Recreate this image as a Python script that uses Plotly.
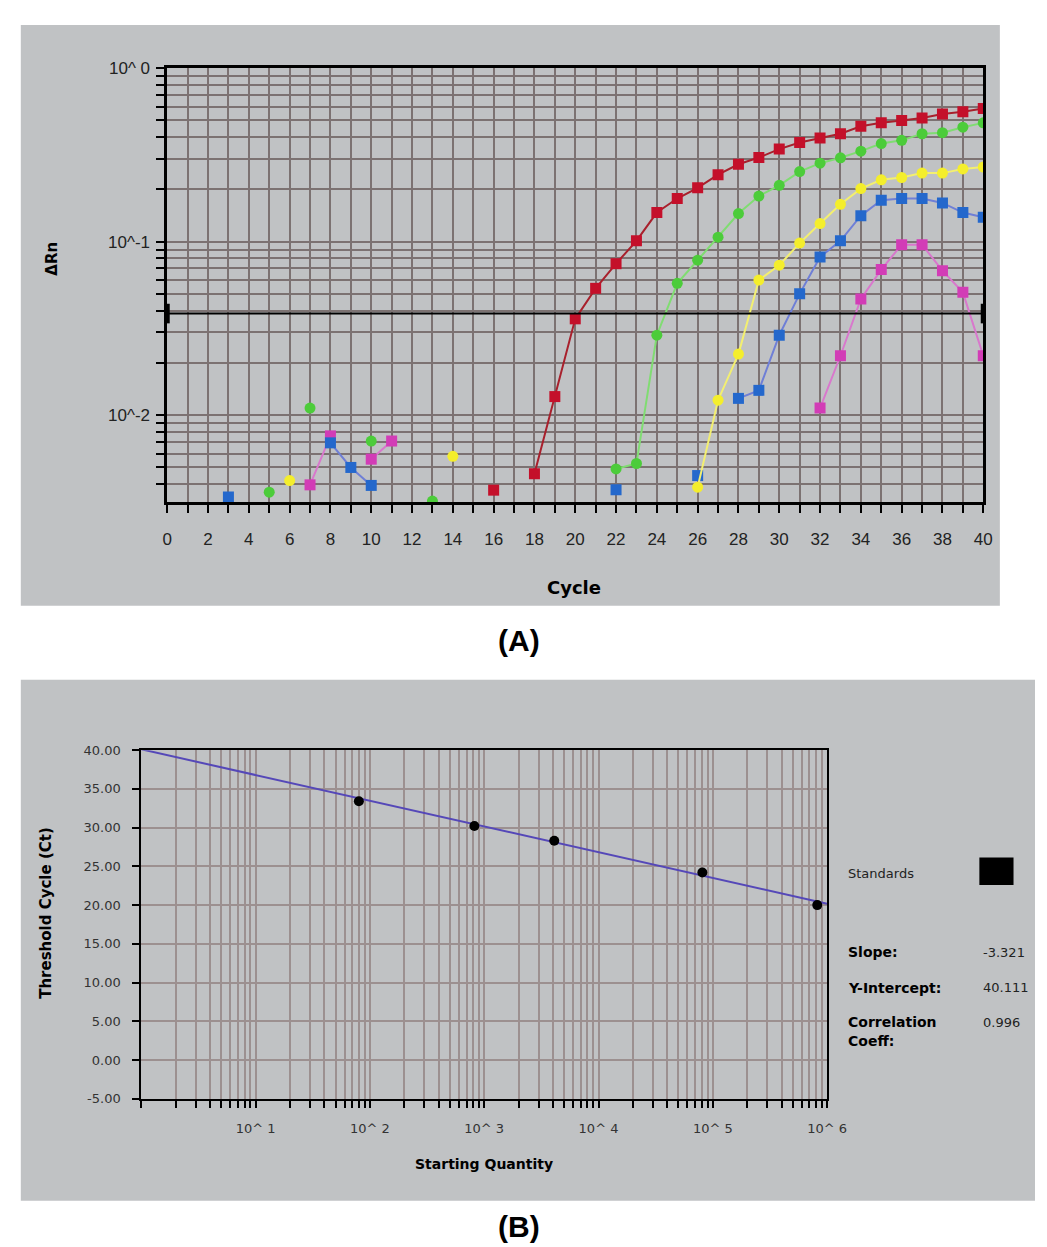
import plotly.graph_objects as go

W, H = 1047, 1247

# ---------------- Panel A data (amplification plot) ----------------
cycles = list(range(0, 41))

def series(points):
    vals = [None] * 41
    for c, v in points.items():
        vals[c] = v
    return vals

red_vals = series({16: 0.0037, 18: 0.0046, 19: 0.0128, 20: 0.0359, 21: 0.0538, 22: 0.0746,
                   23: 0.101, 24: 0.147, 25: 0.177, 26: 0.204, 27: 0.243, 28: 0.279,
                   29: 0.305, 30: 0.341, 31: 0.372, 32: 0.395, 33: 0.418, 34: 0.462,
                   35: 0.483, 36: 0.498, 37: 0.515, 38: 0.543, 39: 0.560, 40: 0.585})
green_vals = series({5: 0.0036, 7: 0.011, 10: 0.0071, 13: 0.0032, 22: 0.0049, 23: 0.00527,
                     24: 0.0289, 25: 0.0575, 26: 0.0781, 27: 0.106, 28: 0.145, 29: 0.183,
                     30: 0.211, 31: 0.253, 32: 0.283, 33: 0.304, 34: 0.332, 35: 0.367,
                     36: 0.383, 37: 0.418, 38: 0.424, 39: 0.456, 40: 0.483})
yellow_vals = series({6: 0.0042, 14: 0.0058, 26: 0.00385, 27: 0.0122, 28: 0.0225, 29: 0.060,
                      30: 0.0731, 31: 0.098, 32: 0.127, 33: 0.164, 34: 0.202, 35: 0.227,
                      36: 0.234, 37: 0.248, 38: 0.248, 39: 0.262, 40: 0.269})
blue_vals = series({3: 0.00338, 8: 0.00693, 9: 0.0050, 10: 0.00394, 22: 0.00372, 26: 0.00449,
                    28: 0.0125, 29: 0.0139, 30: 0.0289, 31: 0.050, 32: 0.0815, 33: 0.101,
                    34: 0.141, 35: 0.173, 36: 0.177, 37: 0.177, 38: 0.167, 39: 0.147, 40: 0.138})
magenta_vals = series({7: 0.00397, 8: 0.0076, 10: 0.00558, 11: 0.0071, 32: 0.011, 33: 0.022,
                       34: 0.0467, 35: 0.069, 36: 0.096, 37: 0.096, 38: 0.068, 39: 0.051, 40: 0.022})
threshold = 0.0385

x_tick_vals_a = list(range(0, 41))
x_tick_text_a = [str(c) if c % 2 == 0 else "" for c in x_tick_vals_a]
y_tick_vals_a = [k * 10.0 ** e for e in (-3, -2, -1) for k in range(1, 10)] + [1.0]
y_tick_vals_a = [v for v in y_tick_vals_a if v >= 0.0032]
y_labels_a = {0.01: "10^-2", 0.1: "10^-1", 1.0: "10^ 0"}

# ---------------- Panel B data (standard curve) ----------------
quantities = [80, 820, 4100, 81000, 820000]
ct_values = [33.4, 30.2, 28.3, 24.2, 20.0]
slope = -3.321
intercept = 40.111
corr = 0.996
x_tick_vals_b = [k * 10 ** e for e in range(0, 6) for k in range(1, 10)] + [10 ** 6]
x_labels_b = {10 ** e: f"10^ {e}" for e in range(1, 7)}
y_tick_vals_b = list(range(-5, 41, 5))


def fx(px):
    return min(max(px / W, 0), 1)


def fy(py):
    return min(max(1 - py / H, 0), 1)


fig = go.Figure()

series_list = [
    ("magenta", magenta_vals, "#d23cb6", "#d878cc", "square"),
    ("blue", blue_vals, "#2468cc", "#6f7fd6", "square"),
    ("yellow", yellow_vals, "#f4ee2c", "#f3ef70", "circle"),
    ("green", green_vals, "#4ccc3a", "#80dc72", "circle"),
    ("red", red_vals, "#c4102a", "#a8202c", "square"),
]
for name, vals, mcol, lcol, sym in series_list:
    fig.add_trace(go.Scatter(
        x=cycles, y=vals, mode="lines+markers", name=name,
        line=dict(color=lcol, width=2),
        marker=dict(color=mcol, size=11, symbol=sym),
        connectgaps=False, showlegend=False, xaxis="x", yaxis="y"))

fig.add_trace(go.Scatter(
    x=[0, 40], y=[threshold, threshold], mode="lines+markers",
    line=dict(color="black", width=2),
    marker=dict(symbol="line-ns", size=14, line=dict(color="black", width=5)),
    cliponaxis=False, showlegend=False, xaxis="x", yaxis="y"))

# Panel B traces
fit_x = [1, 10 ** 6]
fit_y = [intercept + slope * 0, intercept + slope * 6]
fig.add_trace(go.Scatter(
    x=fit_x, y=fit_y, mode="lines", line=dict(color="#5548b8", width=2),
    showlegend=False, xaxis="x2", yaxis="y2"))
fig.add_trace(go.Scatter(
    x=quantities, y=ct_values, mode="markers",
    marker=dict(color="black", size=10, symbol="circle"),
    showlegend=False, xaxis="x2", yaxis="y2"))

tick_font_a = dict(family="Liberation Sans, Arial, sans-serif", size=17, color="#222")
tick_font_b = dict(family="DejaVu Sans, sans-serif", size=13, color="#333")

fig.update_layout(
    width=W, height=H,
    margin=dict(l=0, r=0, t=0, b=0),
    paper_bgcolor="white",
    plot_bgcolor="#eef0f8",
    xaxis=dict(
        domain=[fx(158), fx(994)], anchor="y", range=[0, 40],
        tickmode="array", tickvals=x_tick_vals_a, ticktext=x_tick_text_a,
        ticks="outside", ticklen=8, tickwidth=2, tickcolor="black",
        ticklabelstandoff=12,
        showgrid=True, gridcolor="#7c7272", gridwidth=2,
        showline=True, linecolor="black", linewidth=2.5, mirror=True,
        zeroline=False, tickfont=tick_font_a),
    yaxis=dict(
        domain=[fy(491.7), fy(51.7)], anchor="x", type="log", range=[-2.5, 0],
        tickmode="array", tickvals=y_tick_vals_a,
        ticktext=[y_labels_a.get(round(v, 6), "") for v in y_tick_vals_a],
        ticks="outside", ticklen=8, tickwidth=2, tickcolor="black",
        ticklabelstandoff=3,
        showgrid=True, gridcolor="#7c7272", gridwidth=2,
        showline=True, linecolor="black", linewidth=2.5, mirror=True,
        zeroline=False, tickfont=tick_font_a),
    xaxis2=dict(
        domain=[fx(131.5), fx(834)], anchor="y2", type="log", range=[0, 6],
        tickmode="array", tickvals=x_tick_vals_b,
        ticktext=[x_labels_b.get(v, "") for v in x_tick_vals_b],
        ticks="outside", ticklen=7, tickwidth=1.5, tickcolor="black",
        ticklabelstandoff=10,
        showgrid=True, gridcolor="#9c9090", gridwidth=1.5,
        showline=True, linecolor="black", linewidth=2, mirror=True,
        zeroline=False, tickfont=tick_font_b),
    yaxis2=dict(
        domain=[fy(1096.7), fy(743.3)], anchor="x2", range=[-5, 40],
        tickmode="array", tickvals=y_tick_vals_b,
        ticktext=[f"{v:.2f}" for v in y_tick_vals_b],
        ticks="outside", ticklen=7, tickwidth=1.5, tickcolor="black",
        ticklabelstandoff=9,
        showgrid=True, gridcolor="#9c9090", gridwidth=1.5,
        showline=True, linecolor="black", linewidth=2, mirror=True,
        zeroline=False, tickfont=tick_font_b),
)

# gray panels
fig.add_shape(type="rect", xref="paper", yref="paper",
              x0=fx(8), x1=fx(1011), y0=fy(597), y1=fy(8),
              fillcolor="#c0c2c4", line=dict(width=0), layer="below")
fig.add_shape(type="rect", xref="paper", yref="paper",
              x0=fx(8), x1=fx(1047), y0=fy(1200), y1=fy(672),
              fillcolor="#c0c2c4", line=dict(width=0), layer="below")
# legend swatch
fig.add_shape(type="rect", xref="paper", yref="paper",
              x0=fx(990), x1=fx(1025), y0=fy(880), y1=fy(852),
              fillcolor="black", line=dict(width=0))

bold = "Liberation Sans, Arial, sans-serif"
dv = "DejaVu Sans, sans-serif"


def ann(text, x, y, size, xanchor="center", angle=0, weight="bold", family=bold, color="black"):
    fig.add_annotation(text=text, x=fx(x), y=fy(y), xref="paper", yref="paper",
                       showarrow=False, xanchor=xanchor, yanchor="middle",
                       textangle=angle,
                       font=dict(family=family, size=size, color=color, weight=weight))


ann("ΔRn", 40, 245, 15, angle=-90, family=dv)
ann("Cycle", 575, 578, 18, family=dv)
ann("(A)", 518, 632, 30)
ann("Threshold Cycle (Ct)", 33, 908, 15, angle=-90, family=dv)
ann("Starting Quantity", 483, 1163, 14, family=dv)
ann("(B)", 518, 1226, 30)

ann("Standards", 853, 868, 13, xanchor="left", weight="normal", family=dv, color="#222")
ann("Slope:", 853, 948, 14, xanchor="left", family=dv)
ann(f"{slope:.3f}", 992, 948, 13, xanchor="left", weight="normal", family=dv, color="#222")
ann("Y-Intercept:", 853, 984, 14, xanchor="left", family=dv)
ann(f"{intercept:.3f}", 992, 984, 13, xanchor="left", weight="normal", family=dv, color="#222")
ann("Correlation", 853, 1019, 14, xanchor="left", family=dv)
ann("Coeff:", 853, 1038, 14, xanchor="left", family=dv)
ann(f"{corr:.3f}", 992, 1019, 13, xanchor="left", weight="normal", family=dv, color="#222")

fig.write_html("out.html")
